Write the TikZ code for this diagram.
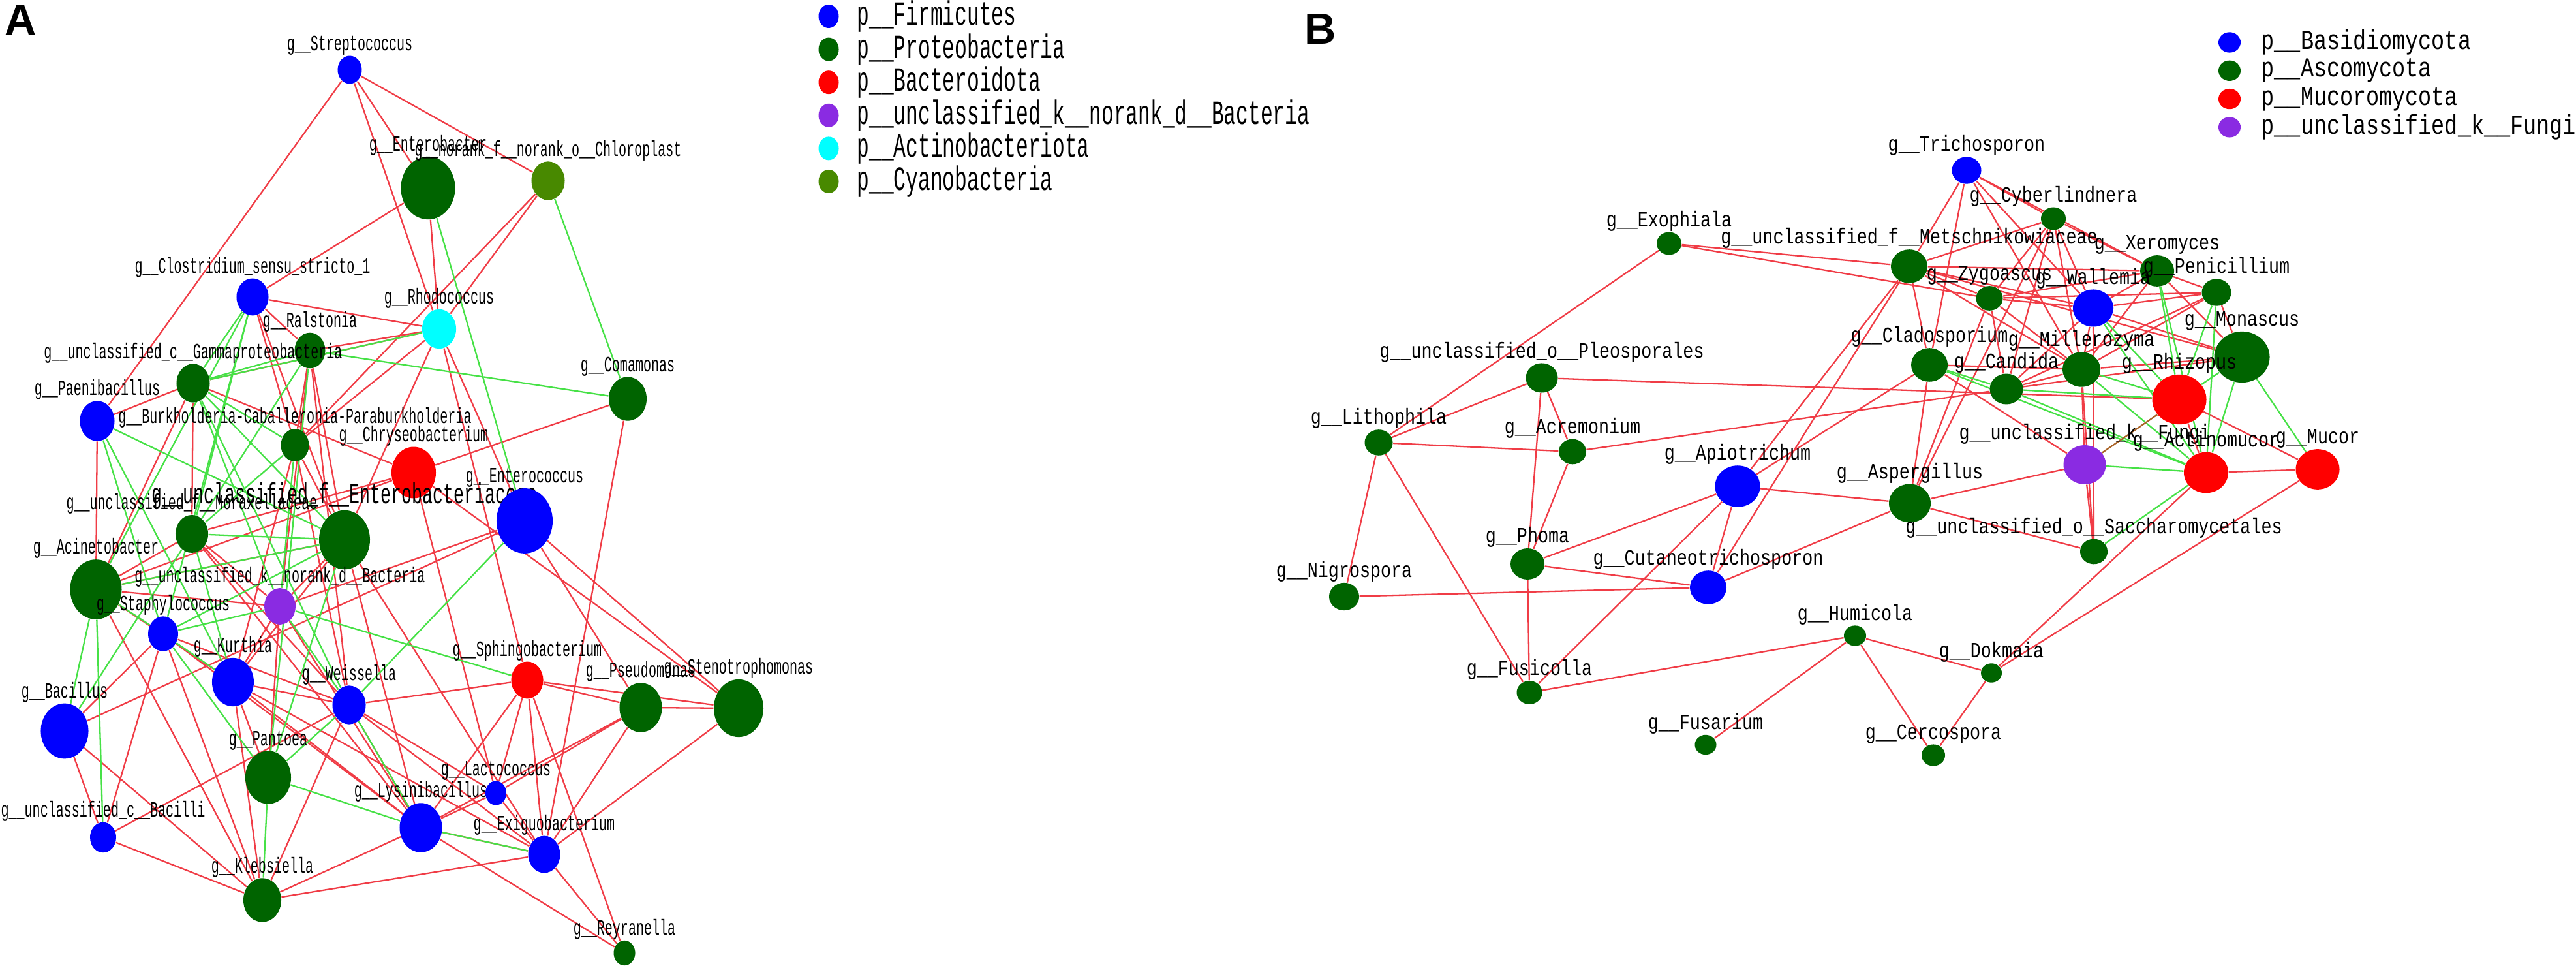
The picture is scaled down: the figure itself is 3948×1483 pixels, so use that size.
\documentclass[tikz,border=0pt]{standalone}
\usepackage{fontspec}
\usetikzlibrary{shapes.geometric,backgrounds}
\newfontfamily\labfontA[FakeStretch=0.6]{Liberation Mono}
\newfontfamily\labfontB[FakeStretch=0.8]{Liberation Mono}
\newfontfamily\panelfont{Liberation Sans}

\definecolor{firm}{RGB}{0,0,255}
\definecolor{prot}{RGB}{0,100,0}
\definecolor{bacto}{RGB}{255,0,0}
\definecolor{unclb}{RGB}{138,43,226}
\definecolor{acti}{RGB}{0,255,255}
\definecolor{cyano}{RGB}{72,137,0}
\definecolor{posred}{RGB}{240,60,70}
\definecolor{neggreen}{RGB}{70,225,70}
\definecolor{mixedge}{RGB}{170,100,40}

\tikzset{
    an/.style={ellipse, inner sep=0pt, minimum width=#1cm, minimum height=1.16*#1cm, label distance={0.44*#1cm-4pt}},
    bn/.style={ellipse, inner sep=0pt, minimum width=#1cm, minimum height=0.92*#1cm, label distance={0.39*#1cm-4pt}},
    labA/.style={font=\labfontA\fontsize{9.5}{10}\selectfont, inner sep=0pt},
    bigA/.style={font=\labfontA\fontsize{12.6}{13}\selectfont, inner sep=0pt},
    lgA/.style={font=\labfontA\fontsize{14.8}{15}\selectfont, inner sep=0pt, anchor=west},
    labB/.style={font=\labfontB\fontsize{9.5}{10}\selectfont, inner sep=0pt},
    lgB/.style={font=\labfontB\fontsize{11.9}{12}\selectfont, inner sep=0pt, anchor=west},
    posedge/.style={draw=posred, line width=0.65pt},
    negedge/.style={draw=neggreen, line width=0.65pt},
}

\begin{document}
\begin{tikzpicture}[x=0.01cm, y=-0.01cm]
    \useasboundingbox (0,0) rectangle (3948,1483);

    \node[font=\panelfont\bfseries\fontsize{19}{20}\selectfont] (panA) at (32,31) {A};
    \node[font=\panelfont\bfseries\fontsize{19}{20}\selectfont] (panB) at (2024,45) {B};

    % bacteria
    \begin{scope}[every label/.style={labA}]
        \node[an=.37, fill=firm, label=above:g\_\_Streptococcus] (strep) at (536,107) {};
        \node[an=.83, fill=prot, label=above:g\_\_Enterobacter] (entb) at (656,288) {};
        \node[an=.51, fill=cyano, label=above:g\_\_norank\_f\_\_norank\_o\_\_Chloroplast] (chlo) at (840,277) {};
        \node[an=.49, fill=firm, label=above:g\_\_Clostridium\_sensu\_stricto\_1] (clos) at (387,455) {};
        \node[an=.52, fill=acti, label=above:g\_\_Rhodococcus] (rhod) at (673,504) {};
        \node[an=.47, fill=prot, label=above:g\_\_Ralstonia] (ralst) at (475,537) {};
        \node[an=.51, fill=prot, label=above:g\_\_unclassified\_c\_\_Gammaproteobacteria] (gamma) at (296,587) {};
        \node[an=.53, fill=firm, label=above:g\_\_Paenibacillus] (paen) at (149,645) {};
        \node[an=.43, fill=prot, label=above:g\_\_Burkholderia-Caballeronia-Paraburkholderia] (burk) at (452,682) {};
        \node[an=.68, fill=bacto, label=above:g\_\_Chryseobacterium] (chrys) at (634,724) {};
        \node[an=.78, fill=prot, label distance=6pt, label={[bigA]above:g\_\_unclassified\_f\_\_Enterobacteriaceae}] (entf) at (528,827) {};
        \node[an=.50, fill=prot, label=above:g\_\_unclassified\_f\_\_Moraxellaceae] (morax) at (294,818) {};
        \node[an=.79, fill=prot, label=above:g\_\_Acinetobacter] (acin) at (147,903) {};
        \node[an=.48, fill=unclb, label=above:g\_\_unclassified\_k\_\_norank\_d\_\_Bacteria] (nbact) at (429,929) {};
        \node[an=.46, fill=firm, label=above:g\_\_Staphylococcus] (staph) at (250,971) {};
        \node[an=.64, fill=firm, label=above:g\_\_Kurthia] (kurth) at (357,1045) {};
        \node[an=.73, fill=firm, label=above:g\_\_Bacillus] (bacil) at (99,1120) {};
        \node[an=.51, fill=firm, label=above:g\_\_Weissella] (weiss) at (535,1080) {};
        \node[an=.70, fill=prot, label=above:g\_\_Pantoea] (pant) at (411,1191) {};
        \node[an=.40, fill=firm, label=above:g\_\_unclassified\_c\_\_Bacilli] (ubacil) at (158,1283) {};
        \node[an=.58, fill=prot, label=above:g\_\_Klebsiella] (kleb) at (402,1379) {};
        \node[an=.65, fill=firm, label=above:g\_\_Lysinibacillus] (lysin) at (645,1268) {};
        \node[an=.49, fill=bacto, label=above:g\_\_Sphingobacterium] (sphin) at (808,1042) {};
        \node[an=.65, fill=prot, label=above:g\_\_Pseudomonas] (pseud) at (982,1084) {};
        \node[an=.76, fill=prot, label=above:g\_\_Stenotrophomonas] (steno) at (1132,1085) {};
        \node[an=.32, fill=firm, label=above:g\_\_Lactococcus] (lacto) at (760,1215) {};
        \node[an=.49, fill=firm, label=above:g\_\_Exiguobacterium] (exig) at (834,1309) {};
        \node[an=.33, fill=prot, label=above:g\_\_Reyranella] (reyr) at (957,1460) {};
        \node[an=.86, fill=firm, label=above:g\_\_Enterococcus] (entc) at (804,798) {};
        \node[an=.58, fill=prot, label=above:g\_\_Comamonas] (coma) at (962,611) {};

        \foreach \c/\txt [count=\i] in {firm/Firmicutes, prot/Proteobacteria, bacto/Bacteroidota,
                unclb/unclassified\_k\_\_norank\_d\_\_Bacteria, acti/Actinobacteriota, cyano/Cyanobacteria}{
            \node[an=.31, fill=\c] (legA\i) at (1270,{25+50.6*(\i-1)}) {};
            \node[lgA] (legAt\i) at (1313,{25+50.6*(\i-1)}) {p\_\_\txt};
        }
    \end{scope}

    % fungi
    \begin{scope}[every label/.style={labB}]
        \node[bn=.45, fill=firm, label=above:g\_\_Trichosporon] (tricho) at (3014,261) {};
        \node[bn=.38, fill=prot, label=above:g\_\_Cyberlindnera] (cyber) at (3147,335) {};
        \node[bn=.56, fill=prot, label=above:g\_\_unclassified\_f\_\_Metschnikowiaceae] (metsch) at (2926,408) {};
        \node[bn=.38, fill=prot, label=above:g\_\_Exophiala] (exo) at (2558,373) {};
        \node[bn=.52, fill=prot, label=above:g\_\_Xeromyces] (xero) at (3306,415) {};
        \node[bn=.41, fill=prot, label=above:g\_\_Zygoascus] (zygo) at (3049,457) {};
        \node[bn=.62, fill=firm, label=above:g\_\_Wallemia] (wallem) at (3208,472) {};
        \node[bn=.45, fill=prot, label=above:g\_\_Penicillium] (penic) at (3397,448) {};
        \node[bn=.85, fill=prot, label=above:g\_\_Monascus] (monas) at (3436,547) {};
        \node[bn=.56, fill=prot, label=above:g\_\_Cladosporium] (clado) at (2957,559) {};
        \node[bn=.58, fill=prot, label=above:g\_\_Millerozyma] (millero) at (3190,566) {};
        \node[bn=.51, fill=prot, label=above:g\_\_Candida] (candida) at (3075,596) {};
        \node[bn=.83, fill=bacto, label=above:g\_\_Rhizopus] (rhiz) at (3340,612) {};
        \node[bn=.65, fill=unclb, label=above:g\_\_unclassified\_k\_\_Fungi] (fungi) at (3195,712) {};
        \node[bn=.68, fill=bacto, label=above:g\_\_Actinomucor] (actino) at (3381,724) {};
        \node[bn=.67, fill=bacto, label=above:g\_\_Mucor] (mucor) at (3552,719) {};
        \node[bn=.64, fill=prot, label=above:g\_\_Aspergillus] (asp) at (2927,771) {};
        \node[bn=.42, fill=prot, label=above:g\_\_unclassified\_o\_\_Saccharomycetales] (sacch) at (3209,845) {};
        \node[bn=.49, fill=prot, label=above:g\_\_unclassified\_o\_\_Pleosporales] (pleo) at (2363,579) {};
        \node[bn=.43, fill=prot, label=above:g\_\_Lithophila] (lith) at (2113,678) {};
        \node[bn=.42, fill=prot, label=above:g\_\_Acremonium] (acrem) at (2410,692) {};
        \node[bn=.69, fill=firm, label=above:g\_\_Apiotrichum] (api) at (2663,745) {};
        \node[bn=.52, fill=prot, label=above:g\_\_Phoma] (phoma) at (2341,864) {};
        \node[bn=.56, fill=firm, label=above:g\_\_Cutaneotrichosporon] (cutan) at (2618,900) {};
        \node[bn=.46, fill=prot, label=above:g\_\_Nigrospora] (nigro) at (2060,914) {};
        \node[bn=.39, fill=prot, label=above:g\_\_Fusicolla] (fusic) at (2344,1061) {};
        \node[bn=.33, fill=prot, label=above:g\_\_Fusarium] (fusa) at (2614,1141) {};
        \node[bn=.34, fill=prot, label=above:g\_\_Humicola] (humi) at (2843,974) {};
        \node[bn=.32, fill=prot, label=above:g\_\_Dokmaia] (dokm) at (3052,1031) {};
        \node[bn=.36, fill=prot, label=above:g\_\_Cercospora] (cerco) at (2963,1157) {};

        \foreach \c/\txt [count=\i] in {firm/Basidiomycota, prot/Ascomycota, bacto/Mucoromycota, unclb/unclassified\_k\_\_Fungi}{
            \node[bn=.34, fill=\c] (legB\i) at (3417,{65+43.3*(\i-1)}) {};
            \node[lgB] (legBt\i) at (3465,{65+43.3*(\i-1)}) {p\_\_\txt};
        }
    \end{scope}

    \begin{scope}[on background layer]
        \fill[white] (0,0) rectangle (3948,1483);
        \foreach \a/\b in {strep/paen, strep/rhod, strep/entb, strep/chlo, entb/clos, entb/rhod,
                chlo/burk, chlo/rhod, clos/rhod, clos/burk, clos/entf, clos/ralst,
                rhod/ralst, rhod/burk, rhod/entf, rhod/sphin, rhod/entc, rhod/gamma,
                ralst/entf, ralst/weiss, ralst/nbact, ralst/burk, coma/chrys, coma/exig,
                chrys/steno, entc/pseud, entc/nbact, entc/bacil, entc/steno, paen/gamma, paen/acin,
                gamma/chrys, gamma/acin, gamma/morax, burk/entf, burk/kurth, burk/weiss,
                chrys/acin, chrys/morax, chrys/lacto, entf/acin, entf/nbact, entf/kurth, entf/exig, entf/lysin,
                morax/acin, morax/nbact, morax/lysin, morax/weiss, acin/nbact, acin/kurth, acin/kleb,
                nbact/kurth, nbact/pant, nbact/lysin, staph/bacil, staph/ubacil, staph/weiss, staph/kleb, staph/lysin,
                kurth/weiss, kurth/kleb, kurth/lysin, kurth/pant, kurth/exig, bacil/ubacil, bacil/kleb,
                ubacil/kleb, ubacil/weiss, weiss/sphin, weiss/lysin, weiss/exig, weiss/lacto, weiss/kleb,
                kleb/lysin, kleb/exig, lysin/sphin, lysin/pseud, lysin/exig, lysin/lacto, lysin/reyr,
                sphin/pseud, sphin/steno, sphin/lacto, sphin/exig, sphin/reyr,
                pseud/steno, pseud/exig, pseud/lacto, steno/exig, lacto/exig, exig/reyr}
            \draw[posedge] (\a) -- (\b);
        \foreach \a/\b in {entb/entc, chlo/coma, clos/gamma, clos/morax, clos/staph, clos/acin,
                rhod/gamma, ralst/coma, ralst/morax, ralst/gamma, ralst/pant, entc/weiss,
                paen/entf, paen/staph, paen/kurth, gamma/entf, gamma/nbact, gamma/weiss, gamma/burk,
                burk/morax, burk/nbact, entf/morax, entf/staph, entf/pant, entf/acin, morax/kurth, morax/bacil,
                acin/staph, acin/bacil, acin/ubacil, nbact/staph, nbact/weiss, nbact/sphin,
                staph/kurth, staph/pant, weiss/pant, weiss/lysin, pant/lysin, pant/kleb, lysin/exig}
            \draw[negedge] (\a) -- (\b);

        \foreach \a/\b in {lith/exo, lith/pleo, lith/acrem, lith/nigro, lith/fusic, pleo/phoma, pleo/acrem, pleo/rhiz,
                acrem/phoma, acrem/candida, api/phoma, api/cutan, api/fusic, api/metsch, api/clado, api/asp,
                cutan/phoma, cutan/nigro, cutan/asp, cutan/metsch, fusic/phoma, fusic/humi, fusa/humi,
                humi/dokm, humi/cerco, dokm/cerco, dokm/actino, dokm/mucor, exo/metsch, exo/zygo,
                tricho/metsch, tricho/clado, tricho/cyber, tricho/wallem, tricho/millero, tricho/xero,
                cyber/metsch, cyber/zygo, cyber/candida, cyber/millero, cyber/wallem, cyber/xero, cyber/asp,
                metsch/zygo, metsch/xero, metsch/wallem, metsch/clado, metsch/millero, metsch/monas,
                zygo/candida, zygo/millero, zygo/wallem, zygo/xero, zygo/asp, zygo/penic,
                wallem/millero, wallem/sacch, wallem/xero, wallem/penic, wallem/monas, wallem/candida,
                millero/candida, millero/sacch, millero/penic, millero/xero, millero/monas, millero/fungi,
                clado/fungi, clado/asp, clado/millero, candida/penic, candida/monas,
                fungi/asp, fungi/sacch, asp/sacch, xero/monas, xero/penic, penic/monas,
                rhiz/actino, rhiz/mucor, actino/mucor}
            \draw[posedge] (\a) -- (\b);
        \foreach \a/\b in {wallem/rhiz, wallem/actino, millero/rhiz, millero/actino, clado/candida,
                candida/rhiz, candida/actino, fungi/actino, sacch/actino, penic/rhiz, penic/actino,
                xero/rhiz, xero/actino, monas/rhiz, monas/actino, monas/mucor, clado/actino}
            \draw[negedge] (\a) -- (\b);
        \draw[draw=mixedge, line width=0.65pt] (fungi) -- (rhiz);
    \end{scope}
\end{tikzpicture}
\end{document}
